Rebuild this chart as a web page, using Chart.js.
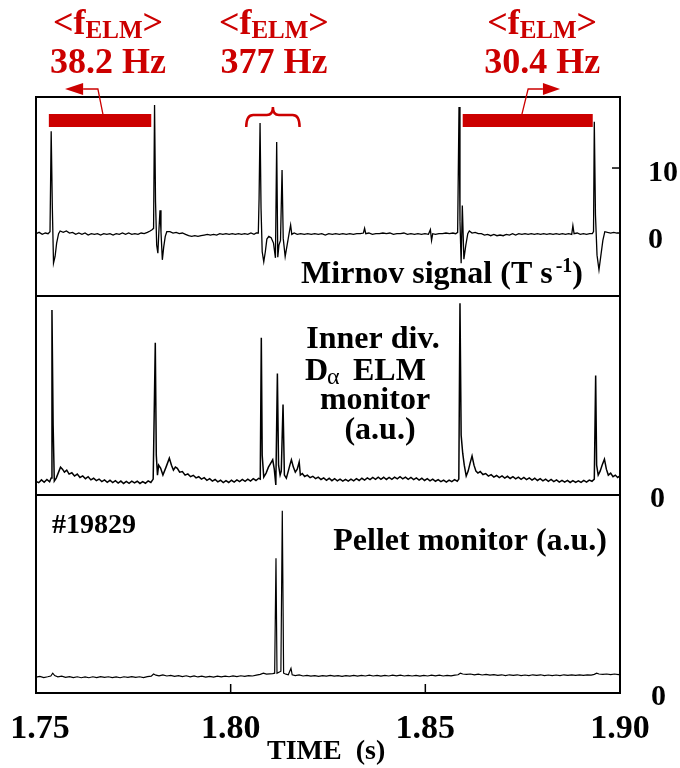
<!DOCTYPE html>
<html>
<head>
<meta charset="utf-8">
<script src="https://cdn.jsdelivr.net/npm/chart.js@4.4.1/dist/chart.umd.min.js"></script>
<style>
  html, body { margin: 0; padding: 0; background: #fff; }
  #wrap { position: relative; width: 680px; height: 768px; }
  #wrap canvas { position: absolute; left: 0; top: 0; }
</style>
</head>
<body>
<div id="wrap">
  <canvas id="c1" width="680" height="768"></canvas>
  <canvas id="c2" width="680" height="768"></canvas>
  <canvas id="c3" width="680" height="768"></canvas>
</div>
<script>
// ELM / pellet traces, shot #19829

// Mirnov signal (T s^-1)
const mirnovT = [
  1.7500, 1.7508, 1.7516, 1.7524, 1.7531, 1.7536, 1.7539, 1.7542, 1.7545, 1.7549,
  1.7553, 1.7558, 1.7562, 1.7570, 1.7578, 1.7586, 1.7594, 1.7602, 1.7610, 1.7618,
  1.7626, 1.7634, 1.7642, 1.7650, 1.7658, 1.7666, 1.7674, 1.7682, 1.7690, 1.7698,
  1.7706, 1.7714, 1.7722, 1.7730, 1.7738, 1.7746, 1.7754, 1.7762, 1.7770, 1.7778,
  1.7786, 1.7793, 1.7798, 1.7802, 1.78045, 1.7807, 1.7810, 1.7813, 1.7816, 1.78185,
  1.7821, 1.78245, 1.7828, 1.7832, 1.7836, 1.7844, 1.7852, 1.7860, 1.7868, 1.7876,
  1.7884, 1.7892, 1.7900, 1.7908, 1.7916, 1.7924, 1.7932, 1.7940, 1.7948, 1.7956,
  1.7964, 1.7972, 1.7980, 1.7988, 1.7996, 1.8004, 1.8012, 1.8020, 1.8028, 1.8036,
  1.8044, 1.8052, 1.8060, 1.8066, 1.8071, 1.8073, 1.80755, 1.8078, 1.8081, 1.8085,
  1.8089, 1.8093, 1.8098, 1.8104, 1.8110, 1.8115, 1.81182, 1.8121, 1.8124, 1.8128,
  1.8132, 1.8135, 1.8140, 1.8145, 1.8150, 1.8154, 1.8157, 1.8163, 1.8171, 1.8180,
  1.8189, 1.8198, 1.8207, 1.8216, 1.8225, 1.8234, 1.8243, 1.8252, 1.8261, 1.8270,
  1.8279, 1.8288, 1.8297, 1.8306, 1.8315, 1.8324, 1.8333, 1.8341, 1.8344, 1.8347,
  1.8355, 1.8364, 1.8373, 1.8382, 1.8391, 1.8400, 1.8409, 1.8418, 1.8427, 1.8436,
  1.8445, 1.8454, 1.8463, 1.8472, 1.8481, 1.8490, 1.8499, 1.8508, 1.8513, 1.8516,
  1.8519, 1.8526, 1.8535, 1.8544, 1.8553, 1.8562, 1.8571, 1.8578, 1.8583, 1.85865,
  1.8589, 1.8592, 1.8595, 1.8599, 1.8604, 1.8609, 1.8613, 1.8620, 1.8628, 1.8636,
  1.8644, 1.8652, 1.8660, 1.8668, 1.8676, 1.8684, 1.8692, 1.8700, 1.8708, 1.8716,
  1.8724, 1.8732, 1.8740, 1.8748, 1.8756, 1.8764, 1.8772, 1.8780, 1.8788, 1.8796,
  1.8804, 1.8812, 1.8820, 1.8828, 1.8836, 1.8844, 1.8852, 1.8860, 1.8868, 1.8876,
  1.8879, 1.8882, 1.8890, 1.8898, 1.8906, 1.8914, 1.8922, 1.8929, 1.8932, 1.8934,
  1.8937, 1.8941, 1.8946, 1.8951, 1.8956, 1.8961, 1.8968, 1.8976, 1.8984, 1.8992,
  1.9000
];
const mirnovV = [
  0.2, 0.4, 0.1, 0.3, 0.2, 0.5, 15.5, 4.0, -4.2, -3.2,
  -1.2, 0.2, 0.6, 0.4, 0.6, 0.3, 0.4, 0.1, 0.3, 0.1,
  0.3, 0.0, 0.2, 0.1, 0.2, 0.0, 0.2, 0.1, 0.2, 0.0,
  0.2, 0.1, 0.3, 0.1, 0.3, 0.1, 0.2, 0.1, 0.3, 0.2,
  0.4, 0.6, 0.8, 1.0, 19.4, 5.0, -1.5, -2.7, 1.0, 3.7,
  0.5, -3.7, -1.8, -0.2, 0.5, 0.5, 0.3, 0.4, 0.2, 0.3,
  0.1, -0.1, -0.2, -0.1, -0.2, -0.1, 0.0, 0.1, 0.0, 0.1,
  0.0, 0.2, 0.1, 0.2, 0.1, 0.2, 0.1, 0.2, 0.1, 0.2,
  0.1, 0.3, 0.1, 0.3, 0.3, 5.5, 16.7, 4.0, -2.5, -4.0,
  -2.5, -0.6, -0.2, -0.4, -1.2, -3.4, 13.9, -3.3, -1.5, -0.8,
  9.7, -0.5, -3.2, -1.5, 0.2, 1.5, 0.1, 0.3, 0.1, 0.2,
  0.1, 0.2, 0.1, 0.2, 0.1, 0.2, 0.0, 0.2, 0.1, 0.2,
  0.1, 0.2, 0.1, 0.2, 0.1, 0.2, 0.2, 0.3, 1.0, 0.2,
  0.3, 0.1, 0.2, 0.2, 0.3, 0.2, 0.3, 0.1, 0.2, 0.2,
  0.3, 0.1, 0.2, 0.1, 0.2, 0.1, 0.2, 0.1, 0.8, -0.8,
  0.2, 0.1, 0.2, 0.2, 0.3, 0.2, 0.3, 0.2, 0.4, 19.1,
  2.0, -4.2, 4.4, -3.6, -1.5, 0.2, 0.6, 0.3, 0.4, 0.2,
  0.2, 0.0, 0.1, -0.1, 0.1, -0.1, 0.0, -0.1, 0.1, 0.0,
  0.2, 0.0, 0.2, 0.1, 0.2, 0.1, 0.2, 0.1, 0.2, 0.1,
  0.2, 0.1, 0.2, 0.1, 0.2, 0.1, 0.2, 0.1, 0.2, 0.1,
  1.4, 0.2, 0.3, 0.1, 0.2, 0.1, 0.2, 0.2, 0.5, 16.9,
  3.0, -3.0, -5.2, -3.0, -0.8, 0.5, 0.4, 0.3, 0.4, 0.3,
  0.3
];

// Inner divertor D-alpha ELM monitor (a.u.)
const dalphaT = [
  1.7500, 1.7507, 1.7514, 1.7521, 1.7528, 1.7535, 1.7539, 1.7541, 1.7544, 1.7547,
  1.7552, 1.7558, 1.7563, 1.7568, 1.7573, 1.7579, 1.7585, 1.7592, 1.7599, 1.7606,
  1.7613, 1.7620, 1.7627, 1.7634, 1.7641, 1.7648, 1.7655, 1.7662, 1.7669, 1.7676,
  1.7683, 1.7690, 1.7697, 1.7704, 1.7711, 1.7718, 1.7725, 1.7732, 1.7739, 1.7746,
  1.7753, 1.7760, 1.7767, 1.7774, 1.7781, 1.7788, 1.7795, 1.7801, 1.78064, 1.7809,
  1.7812, 1.7815, 1.7820, 1.7826, 1.7834, 1.78425, 1.7848, 1.7853, 1.7858, 1.7863,
  1.7869, 1.7876, 1.7883, 1.7890, 1.7897, 1.7904, 1.7911, 1.7918, 1.7925, 1.7932,
  1.7939, 1.7946, 1.7953, 1.7960, 1.7967, 1.7974, 1.7981, 1.7988, 1.7995, 1.8002,
  1.8009, 1.8016, 1.8023, 1.8030, 1.8037, 1.8044, 1.8051, 1.8058, 1.8065, 1.8072,
  1.8076, 1.80787, 1.8081, 1.8085, 1.8091, 1.8097, 1.8103, 1.8108, 1.8112, 1.8116,
  1.8120, 1.8123, 1.8127, 1.8130, 1.81345, 1.8138, 1.8143, 1.8148, 1.8152, 1.8156,
  1.8161, 1.8166, 1.8171, 1.8176, 1.8179, 1.8184, 1.8190, 1.8197, 1.8204, 1.8211,
  1.8218, 1.8225, 1.8232, 1.8239, 1.8246, 1.8253, 1.8260, 1.8267, 1.8274, 1.8281,
  1.8288, 1.8295, 1.8302, 1.8309, 1.8316, 1.8323, 1.8330, 1.8337, 1.8344, 1.8351,
  1.8358, 1.8365, 1.8372, 1.8379, 1.8386, 1.8393, 1.8400, 1.8407, 1.8414, 1.8421,
  1.8428, 1.8435, 1.8442, 1.8449, 1.8456, 1.8463, 1.8470, 1.8477, 1.8484, 1.8491,
  1.8498, 1.8505, 1.8512, 1.8519, 1.8526, 1.8533, 1.8540, 1.8547, 1.8554, 1.8561,
  1.8568, 1.8575, 1.8582, 1.8586, 1.8589, 1.8592, 1.8596, 1.8600, 1.8605, 1.8610,
  1.8615, 1.8620, 1.8625, 1.8630, 1.8635, 1.8641, 1.8648, 1.8655, 1.8662, 1.8669,
  1.8676, 1.8683, 1.8690, 1.8697, 1.8704, 1.8711, 1.8718, 1.8725, 1.8732, 1.8739,
  1.8746, 1.8753, 1.8760, 1.8767, 1.8774, 1.8781, 1.8788, 1.8795, 1.8802, 1.8809,
  1.8816, 1.8823, 1.8830, 1.8837, 1.8844, 1.8851, 1.8858, 1.8865, 1.8872, 1.8879,
  1.8886, 1.8893, 1.8900, 1.8907, 1.8914, 1.8921, 1.8928, 1.8934, 1.89375, 1.8940,
  1.8944, 1.8949, 1.8954, 1.8960, 1.8965, 1.8970, 1.8976, 1.8982, 1.8988, 1.8994,
  1.9000
];
const dalphaV = [
  0.068, 0.062, 0.076, 0.064, 0.078, 0.066, 0.085, 0.930, 0.350, 0.070,
  0.085, 0.115, 0.140, 0.130, 0.115, 0.125, 0.105, 0.112, 0.095, 0.105,
  0.088, 0.096, 0.082, 0.092, 0.076, 0.084, 0.072, 0.080, 0.067, 0.076,
  0.064, 0.074, 0.062, 0.072, 0.060, 0.070, 0.058, 0.068, 0.059, 0.070,
  0.061, 0.069, 0.058, 0.067, 0.059, 0.071, 0.063, 0.080, 0.765, 0.200,
  0.100, 0.150, 0.135, 0.100, 0.140, 0.185, 0.150, 0.125, 0.140, 0.134,
  0.115, 0.118, 0.100, 0.106, 0.092, 0.099, 0.086, 0.092, 0.080, 0.087,
  0.074, 0.082, 0.070, 0.078, 0.066, 0.074, 0.062, 0.072, 0.063, 0.074,
  0.065, 0.076, 0.067, 0.078, 0.069, 0.080, 0.070, 0.082, 0.073, 0.084,
  0.080, 0.790, 0.200, 0.090, 0.110, 0.140, 0.160, 0.177, 0.130, 0.050,
  0.610, 0.150, 0.100, 0.120, 0.455, 0.100, 0.085, 0.120, 0.150, 0.177,
  0.140, 0.115, 0.130, 0.166, 0.100, 0.108, 0.093, 0.100, 0.087, 0.094,
  0.082, 0.090, 0.078, 0.086, 0.074, 0.084, 0.072, 0.082, 0.071, 0.080,
  0.070, 0.079, 0.070, 0.080, 0.071, 0.082, 0.073, 0.084, 0.075, 0.086,
  0.077, 0.088, 0.079, 0.090, 0.079, 0.089, 0.078, 0.088, 0.079, 0.090,
  0.081, 0.092, 0.081, 0.090, 0.079, 0.088, 0.077, 0.086, 0.075, 0.084,
  0.073, 0.082, 0.071, 0.080, 0.069, 0.077, 0.067, 0.075, 0.065, 0.075,
  0.067, 0.077, 0.069, 0.080, 0.963, 0.300, 0.210, 0.150, 0.095, 0.120,
  0.160, 0.196, 0.150, 0.120, 0.110, 0.118, 0.103, 0.108, 0.095, 0.102,
  0.090, 0.098, 0.087, 0.096, 0.085, 0.094, 0.083, 0.092, 0.081, 0.090,
  0.079, 0.088, 0.077, 0.086, 0.075, 0.084, 0.073, 0.082, 0.071, 0.080,
  0.069, 0.078, 0.067, 0.076, 0.065, 0.074, 0.065, 0.073, 0.063, 0.072,
  0.063, 0.071, 0.063, 0.073, 0.065, 0.075, 0.069, 0.080, 0.600, 0.150,
  0.100, 0.120, 0.150, 0.180, 0.130, 0.100, 0.110, 0.092, 0.100, 0.088,
  0.096
];

// Pellet monitor (a.u.)
const pelletT = [
  1.7500, 1.7510, 1.7520, 1.7530, 1.7538, 1.7543, 1.7548, 1.7556, 1.7566, 1.7576,
  1.7586, 1.7596, 1.7606, 1.7616, 1.7626, 1.7636, 1.7646, 1.7656, 1.7666, 1.7676,
  1.7686, 1.7696, 1.7706, 1.7716, 1.7726, 1.7736, 1.7746, 1.7756, 1.7766, 1.7776,
  1.7786, 1.7796, 1.7802, 1.7808, 1.7816, 1.7826, 1.7836, 1.7846, 1.7856, 1.7866,
  1.7876, 1.7886, 1.7896, 1.7906, 1.7916, 1.7926, 1.7936, 1.7946, 1.7956, 1.7966,
  1.7976, 1.7986, 1.7996, 1.8006, 1.8016, 1.8026, 1.8036, 1.8046, 1.8056, 1.8066,
  1.8076, 1.8084, 1.8092, 1.8100, 1.8108, 1.8113, 1.81164, 1.8119, 1.8124, 1.8129,
  1.81326, 1.8136, 1.8142, 1.8148, 1.81549, 1.8158, 1.8166, 1.8176, 1.8186, 1.8196,
  1.8206, 1.8216, 1.8226, 1.8236, 1.8246, 1.8256, 1.8266, 1.8276, 1.8286, 1.8296,
  1.8306, 1.8316, 1.8326, 1.8336, 1.8346, 1.8356, 1.8366, 1.8376, 1.8386, 1.8396,
  1.8406, 1.8416, 1.8426, 1.8436, 1.8446, 1.8456, 1.8466, 1.8476, 1.8486, 1.8496,
  1.8506, 1.8516, 1.8526, 1.8536, 1.8546, 1.8556, 1.8566, 1.8576, 1.8584, 1.8590,
  1.8596, 1.8606, 1.8616, 1.8626, 1.8636, 1.8646, 1.8656, 1.8666, 1.8676, 1.8686,
  1.8696, 1.8706, 1.8716, 1.8726, 1.8736, 1.8746, 1.8756, 1.8766, 1.8776, 1.8786,
  1.8796, 1.8806, 1.8816, 1.8826, 1.8836, 1.8846, 1.8856, 1.8866, 1.8876, 1.8886,
  1.8896, 1.8906, 1.8916, 1.8926, 1.8934, 1.8940, 1.8946, 1.8956, 1.8966, 1.8976,
  1.8986, 1.8996, 1.9000
];
const pelletV = [
  0.080, 0.084, 0.078, 0.082, 0.086, 0.100, 0.088, 0.082, 0.085, 0.079,
  0.083, 0.078, 0.082, 0.077, 0.081, 0.077, 0.082, 0.078, 0.083, 0.079,
  0.082, 0.078, 0.081, 0.077, 0.082, 0.079, 0.083, 0.079, 0.082, 0.078,
  0.083, 0.085, 0.096, 0.090, 0.087, 0.091, 0.086, 0.089, 0.084, 0.088,
  0.083, 0.087, 0.082, 0.086, 0.081, 0.085, 0.080, 0.084, 0.080, 0.085,
  0.081, 0.085, 0.082, 0.086, 0.083, 0.087, 0.084, 0.088, 0.086, 0.090,
  0.094, 0.100, 0.095, 0.097, 0.098, 0.100, 0.680, 0.100, 0.105, 0.110,
  0.920, 0.100, 0.095, 0.092, 0.125, 0.092, 0.088, 0.091, 0.086, 0.089,
  0.085, 0.088, 0.084, 0.088, 0.085, 0.089, 0.085, 0.088, 0.084, 0.088,
  0.085, 0.089, 0.085, 0.089, 0.086, 0.090, 0.086, 0.089, 0.085, 0.089,
  0.086, 0.090, 0.087, 0.090, 0.086, 0.089, 0.086, 0.089, 0.085, 0.089,
  0.086, 0.090, 0.087, 0.090, 0.086, 0.089, 0.087, 0.090, 0.092, 0.100,
  0.096, 0.094, 0.096, 0.092, 0.095, 0.091, 0.094, 0.090, 0.093, 0.089,
  0.092, 0.088, 0.092, 0.089, 0.092, 0.088, 0.091, 0.088, 0.092, 0.089,
  0.092, 0.088, 0.091, 0.088, 0.091, 0.088, 0.092, 0.089, 0.092, 0.089,
  0.092, 0.089, 0.092, 0.090, 0.094, 0.100, 0.096, 0.094, 0.096, 0.093,
  0.096, 0.093, 0.095
];

// axis ticks
const xTickVals = [1.75, 1.80, 1.85, 1.90];
const xTickLabels = ['1.75', '1.80', '1.85', '1.90'];
const mirnovTickVals = [0, 10];
const mirnovTickLabels = ['0', '10'];

// ELM frequency annotations
const freqLabels = ['38.2 Hz', '377 Hz', '30.4 Hz'];
const barLeft = [1.7533, 1.7796];
const barRight = [1.8596, 1.8930];
const barLevel = 17.1;
const braceSpan = [1.8040, 1.8177];

const SERIF = "'Liberation Serif', 'Times New Roman', serif";
const RED = '#cc0000';

function zip(ts, vs) {
  return ts.map((t, i) => ({ x: t, y: vs[i] }));
}

function txt(ctx, s, x, y, size, align, color, weight) {
  ctx.font = (weight || 'bold') + ' ' + size + 'px ' + SERIF;
  ctx.textAlign = align || 'left';
  ctx.textBaseline = 'alphabetic';
  ctx.fillStyle = color || '#000';
  ctx.fillText(s, x, y);
  return ctx.measureText(s).width;
}

function width(ctx, s, size, weight) {
  ctx.font = (weight || 'bold') + ' ' + size + 'px ' + SERIF;
  return ctx.measureText(s).width;
}

function drawFrame(chart) {
  const { ctx, chartArea: a } = chart;
  ctx.save();
  ctx.strokeStyle = '#000';
  ctx.lineWidth = 2;
  ctx.strokeRect(a.left, a.top, a.right - a.left, a.bottom - a.top);
  ctx.restore();
}

function trace(data, w) {
  return {
    data: data,
    borderColor: '#000',
    borderWidth: w,
    pointRadius: 0,
    tension: 0,
    fill: false
  };
}

function panel(id, pad, yMin, yMax, datasets, extra) {
  return new Chart(document.getElementById(id), {
    type: 'line',
    data: { datasets },
    options: {
      responsive: false,
      animation: false,
      devicePixelRatio: 1,
      events: [],
      layout: { padding: pad },
      scales: {
        x: { type: 'linear', min: 1.75, max: 1.90, display: false },
        y: { type: 'linear', min: yMin, max: yMax, display: false }
      },
      plugins: { legend: { display: false }, tooltip: { enabled: false } }
    },
    plugins: [{
      id: 'deco_' + id,
      afterDraw(chart) {
        drawFrame(chart);
        chart.ctx.save();
        extra(chart);
        chart.ctx.restore();
      }
    }]
  });
}

// top: the red <f_ELM> label, two lines
function fLabel(ctx, cx, s) {
  const w1 = width(ctx, '<f', 36), w2 = width(ctx, 'ELM', 25), w3 = width(ctx, '>', 36);
  let x = cx - (w1 + w2 + w3) / 2;
  x += txt(ctx, '<f', x, 34, 36, 'left', RED);
  x += txt(ctx, 'ELM', x, 38, 25, 'left', RED);
  txt(ctx, '>', x, 34, 36, 'left', RED);
  txt(ctx, s, cx, 73, 36, 'center', RED);
}

function arrow(ctx, footX, kneeX, baseX, tipX, yBar, yLine) {
  ctx.strokeStyle = RED;
  ctx.fillStyle = RED;
  ctx.lineWidth = 1.3;
  ctx.beginPath();
  ctx.moveTo(footX, yBar);
  ctx.lineTo(kneeX, yLine);
  ctx.lineTo(baseX, yLine);
  ctx.stroke();
  ctx.beginPath();
  ctx.moveTo(tipX, yLine);
  ctx.lineTo(baseX, yLine - 6);
  ctx.lineTo(baseX, yLine + 6);
  ctx.closePath();
  ctx.fill();
}

panel('c1', { left: 36, right: 60, top: 97, bottom: 472 }, -9.1, 20.6, [
  trace(zip(mirnovT, mirnovV), 1.3),
  {
    data: [{ x: barLeft[0], y: barLevel }, { x: barLeft[1], y: barLevel }],
    borderColor: RED, borderWidth: 13, borderCapStyle: 'butt', pointRadius: 0
  },
  {
    data: [{ x: barRight[0], y: barLevel }, { x: barRight[1], y: barLevel }],
    borderColor: RED, borderWidth: 13, borderCapStyle: 'butt', pointRadius: 0
  }
], function (chart) {
  const { ctx, chartArea: a, scales: { x, y } } = chart;
  // right axis
  ctx.strokeStyle = '#000';
  ctx.lineWidth = 1.5;
  ctx.beginPath();
  ctx.moveTo(a.right - 8, y.getPixelForValue(10));
  ctx.lineTo(a.right, y.getPixelForValue(10));
  ctx.stroke();
  mirnovTickVals.forEach((v, i) => {
    txt(ctx, mirnovTickLabels[i], 648, y.getPixelForValue(v) + 13, 30);
  });
  // frequency annotations
  fLabel(ctx, x.getPixelForValue(1.7685), freqLabels[0]);
  fLabel(ctx, x.getPixelForValue(1.8111), freqLabels[1]);
  fLabel(ctx, x.getPixelForValue(1.8800), freqLabels[2]);
  const yBar = y.getPixelForValue(barLevel) - 6;
  arrow(ctx, x.getPixelForValue(1.7672), x.getPixelForValue(1.7659),
        x.getPixelForValue(1.7621), x.getPixelForValue(1.75745), yBar, 89);
  arrow(ctx, x.getPixelForValue(1.8748), x.getPixelForValue(1.8764),
        x.getPixelForValue(1.8802), x.getPixelForValue(1.8846), yBar, 89);
  // brace over the ELM burst
  const xl = x.getPixelForValue(braceSpan[0]), xr = x.getPixelForValue(braceSpan[1]);
  const xm = (xl + xr) / 2, yt = 107, yh = 115, yb = 127;
  ctx.strokeStyle = RED;
  ctx.lineWidth = 2.5;
  ctx.beginPath();
  ctx.moveTo(xl, yb);
  ctx.quadraticCurveTo(xl, yh, xl + 7, yh);
  ctx.lineTo(xm - 6, yh);
  ctx.quadraticCurveTo(xm, yh, xm, yt);
  ctx.quadraticCurveTo(xm, yh, xm + 6, yh);
  ctx.lineTo(xr - 7, yh);
  ctx.quadraticCurveTo(xr, yh, xr, yb);
  ctx.stroke();
  // label
  const p1 = 'Mirnov signal (T s', p2 = '-1', p3 = ')';
  const tw = width(ctx, p1, 32) + 3 + width(ctx, p2, 20) + width(ctx, p3, 32);
  let lx = 583 - tw;
  lx += txt(ctx, p1, lx, 283, 32) + 3;
  lx += txt(ctx, p2, lx, 272, 20);
  txt(ctx, p3, lx, 283, 32);
});

panel('c2', { left: 36, right: 60, top: 296, bottom: 273 }, 0, 1, [
  trace(zip(dalphaT, dalphaV), 1.5)
], function (chart) {
  const { ctx, scales: { y } } = chart;
  txt(ctx, '0', 650, y.getPixelForValue(0) + 12, 30);
  txt(ctx, 'Inner div.', 373, 348, 32, 'center');
  txt(ctx, 'D', 305, 380, 32);
  txt(ctx, '\u03b1', 327, 384, 24, 'left', '#000', 'normal');
  txt(ctx, 'ELM', 353, 380, 32);
  txt(ctx, 'monitor', 375, 409, 32, 'center');
  txt(ctx, '(a.u.)', 380, 439, 32, 'center');
});

panel('c3', { left: 36, right: 60, top: 495, bottom: 75 }, 0, 1, [
  trace(zip(pelletT, pelletV), 1.2)
], function (chart) {
  const { ctx, chartArea: a, scales: { x, y } } = chart;
  txt(ctx, '0', 651, y.getPixelForValue(0) + 12, 30);
  // inward x ticks
  ctx.strokeStyle = '#000';
  ctx.lineWidth = 1.5;
  xTickVals.forEach((v, i) => {
    const px = x.getPixelForValue(v);
    ctx.beginPath();
    ctx.moveTo(px, a.bottom);
    ctx.lineTo(px, a.bottom - 9);
    ctx.stroke();
    txt(ctx, xTickLabels[i], i === 0 ? px + 4 : px, 738, 34, 'center');
  });
  txt(ctx, 'TIME  (s)', 267, 759, 28);
  txt(ctx, '#19829', 52, 533, 28);
  txt(ctx, 'Pellet monitor (a.u.)', 607, 550, 32, 'right');
});
</script>
</body>
</html>
